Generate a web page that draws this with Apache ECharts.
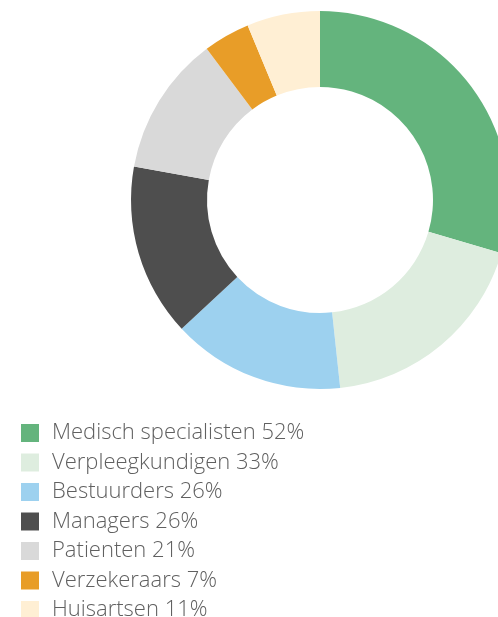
<!DOCTYPE html>
<html>
<head>
<meta charset="utf-8">
<script src="https://cdn.jsdelivr.net/npm/echarts@6/dist/echarts.min.js"></script>
<style>
  html, body { margin: 0; padding: 0; background: #fff; }
  #chart { width: 498px; height: 617px; }
</style>
</head>
<body>
<div id="chart"></div>
<script>
const names = ['Medisch specialisten', 'Verpleegkundigen', 'Bestuurders', 'Managers', 'Patienten', 'Verzekeraars', 'Huisartsen']
const values = [52, 33, 26, 26, 21, 7, 11]
const colors = ['#64b47d', '#deeddf', '#9dd1ef', '#4e4e4e', '#d9d9d9', '#e89d28', '#ffefd4']

const chart = echarts.init(document.getElementById('chart'))

chart.setOption({
  animation: false,
  color: colors,
  legend: {
    orient: 'vertical',
    left: 21,
    top: 422,
    height: 240,
    padding: 0,
    itemWidth: 18,
    itemHeight: 18,
    itemGap: 7.5,
    icon: 'rect',
    data: names,
    formatter: function(name) {
      return name + ' ' + values[names.indexOf(name)] + '%'
    },
    textStyle: {
      color: '#606060',
      fontSize: 22,
      fontFamily: 'Open Sans',
      fontWeight: 300,
      padding: [0, 0, 0, 8]
    }
  },
  series: [
    {
      type: 'pie',
      center: [320, 200],
      radius: [113, 189],
      startAngle: 90,
      label: { show: false },
      labelLine: { show: false },
      emphasis: { disabled: true },
      itemStyle: { borderWidth: 0 },
      data: names.map((n, i) => ({ name: n, value: values[i] }))
    }
  ]
})
</script>
</body>
</html>
